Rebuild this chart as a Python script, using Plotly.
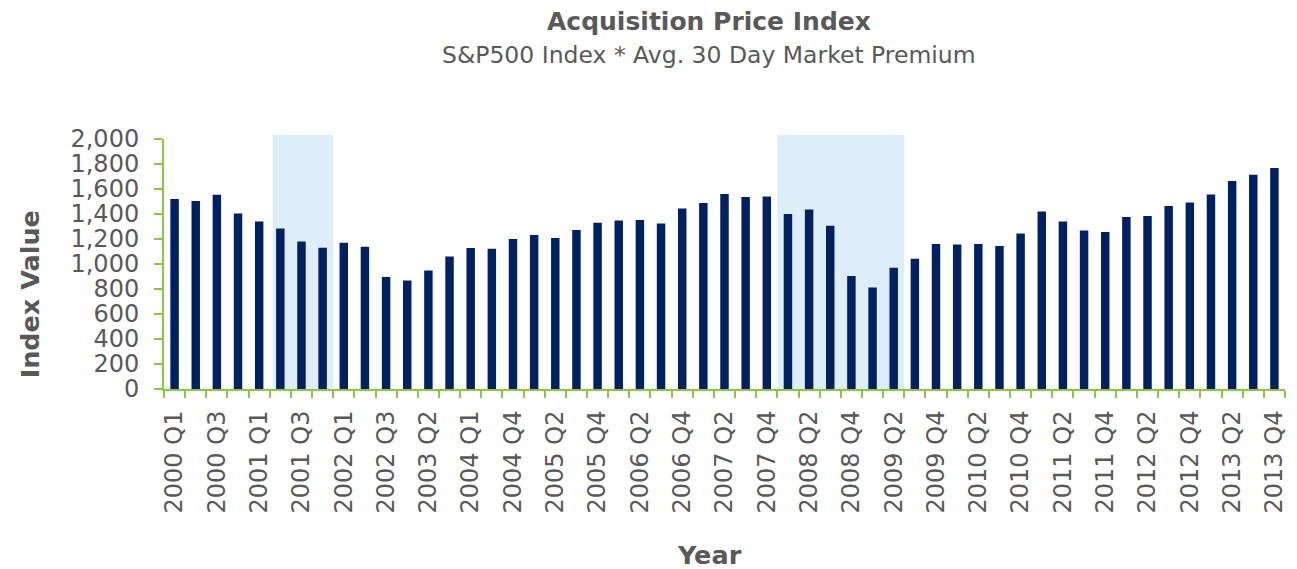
import plotly.graph_objects as go

quarters = [
    "2000 Q1", "2000 Q2", "2000 Q3", "2000 Q4",
    "2001 Q1", "2001 Q2", "2001 Q3", "2001 Q4",
    "2002 Q1", "2002 Q2", "2002 Q3", "2002 Q4",
    "2003 Q2", "2003 Q3",
    "2004 Q1", "2004 Q2", "2004 Q4",
    "2005 Q1", "2005 Q2", "2005 Q3", "2005 Q4",
    "2006 Q1", "2006 Q2", "2006 Q3", "2006 Q4",
    "2007 Q1", "2007 Q2", "2007 Q3", "2007 Q4",
    "2008 Q1", "2008 Q2", "2008 Q3", "2008 Q4",
    "2009 Q1", "2009 Q2", "2009 Q3", "2009 Q4",
    "2010 Q1", "2010 Q2", "2010 Q3", "2010 Q4",
    "2011 Q1", "2011 Q2", "2011 Q3", "2011 Q4",
    "2012 Q1", "2012 Q2", "2012 Q3", "2012 Q4",
    "2013 Q1", "2013 Q2", "2013 Q3", "2013 Q4",
]
index_values = [
    1520, 1504, 1555, 1405,
    1341, 1285, 1181, 1131,
    1171, 1139, 896, 869,
    949, 1061,
    1128, 1123, 1200,
    1232, 1208, 1272, 1331,
    1349, 1352, 1325, 1445,
    1488, 1560, 1536, 1541,
    1400, 1437, 1307, 904,
    813, 971, 1043, 1160,
    1157, 1160, 1144, 1245,
    1421, 1341, 1269, 1256,
    1376, 1384, 1464, 1493,
    1557, 1664, 1714, 1768,
]
# shaded (recession) spans, in category index units
recession_spans = [(4.64, 7.5), (28.5, 34.5)]
y_ticks = [0, 200, 400, 600, 800, 1000, 1200, 1400, 1600, 1800, 2000]

tick_text = [q if i % 2 == 0 else "" for i, q in enumerate(quarters)]

GREEN = "#8dc63f"
GREY = "#595959"
FONT = "DejaVu Sans, Verdana, sans-serif"

# page body has an 8px margin; plot area spans page x 164..1288, y 139..389
L, T, PW, PH = 156, 131, 1124, 250

fig = go.Figure()
fig.add_trace(go.Bar(
    x=quarters, y=index_values,
    marker=dict(color="#002060", line=dict(width=0)),
    showlegend=False,
))

for x0, x1 in recession_spans:
    fig.add_shape(type="rect", xref="x", yref="paper", x0=x0, x1=x1, y0=0, y1=1.016,
                  fillcolor="#ddeef8", line=dict(width=0), layer="below")


def px(xp):
    return (xp - 164) / PW


def py(yp):
    return (389 - yp) / PH


fig.update_layout(
    width=1289, height=561,
    margin=dict(l=L, r=1289 - L - PW, t=T, b=561 - T - PH),
    paper_bgcolor="white", plot_bgcolor="white",
    bargap=0.6,
    font=dict(family=FONT, color=GREY),
    xaxis=dict(
        type="category",
        tickmode="array", tickvals=quarters, ticktext=tick_text,
        tickangle=-90, tickson="boundaries",
        ticks="outside", ticklen=7, tickcolor=GREEN, tickwidth=1.5,
        showline=True, linecolor=GREEN, linewidth=2,
        showgrid=False, zeroline=False,
        tickfont=dict(size=24, color=GREY, family=FONT),
        ticklabelstandoff=10,
        range=[-0.5, len(quarters) - 0.5],
    ),
    yaxis=dict(
        range=[0, 2000], tickmode="array", tickvals=y_ticks,
        tickformat=",d",
        ticks="outside", ticklen=8, tickcolor=GREEN, tickwidth=1.5,
        showline=True, linecolor=GREEN, linewidth=2,
        showgrid=False, zeroline=False,
        tickfont=dict(size=24, color=GREY, family=FONT),
        ticklabelstandoff=10,
    ),
    annotations=[
        dict(text="<b>Acquisition Price Index</b>", xref="paper", yref="paper",
             x=px(710), y=py(21), showarrow=False,
             xanchor="center", yanchor="middle",
             font=dict(size=25, color=GREY, family=FONT)),
        dict(text="S&P500 Index * Avg. 30 Day Market Premium", xref="paper", yref="paper",
             x=px(710), y=py(55), showarrow=False,
             xanchor="center", yanchor="middle",
             font=dict(size=23.5, color=GREY, family=FONT)),
        dict(text="<b>Index Value</b>", xref="paper", yref="paper",
             x=px(30), y=py(294), showarrow=False,
             xanchor="center", yanchor="middle", textangle=-90,
             font=dict(size=25.5, color=GREY, family=FONT)),
        dict(text="<b>Year</b>", xref="paper", yref="paper",
             x=px(711), y=py(555), showarrow=False,
             xanchor="center", yanchor="middle",
             font=dict(size=25.5, color=GREY, family=FONT)),
    ],
)

fig.write_html("out.html")
